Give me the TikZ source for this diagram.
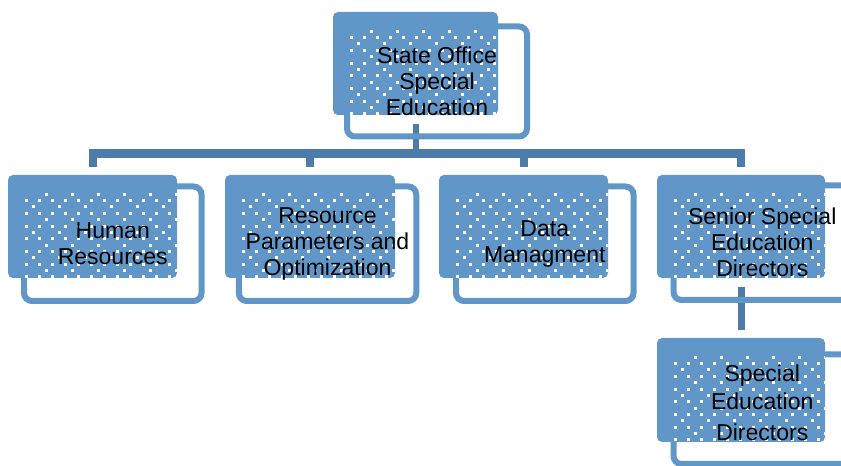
\documentclass[tikz,border=0pt]{standalone}
\usepackage{fontspec}
\setmainfont{Liberation Sans}
\usetikzlibrary{backgrounds}
\definecolor{boxblue}{RGB}{96,150,200}
\definecolor{linkblue}{RGB}{78,124,170}
\tikzset{
  fillbox/.style={rectangle, rounded corners=5pt, fill=boxblue, minimum width=169pt, minimum height=103pt, inner sep=0pt, outer sep=0pt},
  framebox/.style={rectangle, rounded corners=8pt, draw=boxblue, line width=6pt, minimum width=177.5pt, minimum height=114.5pt, inner sep=0pt, outer sep=0pt},
  lbl/.style={font=\fontsize{23}{26}\selectfont, align=center, text=black, inner sep=0pt},
  conn/.style={draw=linkblue},
}
\newcommand\dotsin[1]{%
  \begin{scope}
    \clip[rounded corners=5pt] (#1.south west) rectangle (#1.north east);
    \foreach \r in {0,...,14}{%
      \pgfmathsetmacro\dotY{19.3+6.35*\r}%
      \pgfmathtruncatemacro\dotM{mod(\r,4)}%
      \ifodd\r
        \foreach \c in {0,...,12}{\fill[white] ([shift={(18.7+13*\c-1.5,-\dotY+1.5)}]#1.north west) rectangle ++(3,-3);}%
      \else
        \ifnum\dotM=0 \def\dotS{38.2}\else\def\dotS{25.2}\fi
        \foreach \c in {0,...,6}{\fill[white] ([shift={(\dotS+26*\c-1.5,-\dotY+1.5)}]#1.north west) rectangle ++(3,-3);}%
      \fi
    }%
  \end{scope}}
\begin{document}
\begin{tikzpicture}[x=1pt,y=1pt]
  \useasboundingbox (0,0) rectangle (841,466);
  % frames (behind)
  \node[framebox, minimum width=180pt, minimum height=110pt] (o0) at (437,384.5) {};
  \node[framebox] (o1) at (112.75,222.25) {};
  \node[framebox] (o2) at (327.5,222.25) {};
  \node[framebox] (o3) at (544.75,222.25) {};
  \node[framebox] (o4) at (762.25,223.25) {};
  \node[framebox, minimum height=109.5pt] (o5) at (762.25,56.75) {};
  % filled boxes
  \node[fillbox, minimum width=165pt] (f0) at (415.5,402.5) {};
  \node[fillbox] (f1) at (92.5,239.5) {};
  \node[fillbox, minimum width=170pt] (f2) at (310,239.5) {};
  \node[fillbox] (f3) at (523.5,239.5) {};
  \node[fillbox, minimum width=168pt] (f4) at (741,239.5) {};
  \node[fillbox, minimum width=168pt, minimum height=104pt] (f5) at (741,76) {};
  \dotsin{f0}\dotsin{f1}\dotsin{f2}\dotsin{f3}\dotsin{f4}\dotsin{f5}
  % labels
  \node[lbl] (t0) at (o0) {State Office\\Special\\Education};
  \node[lbl] (t1) at (o1) {Human\\Resources};
  \node[lbl] (t2) at (o2) {Resource\\Parameters and\\Optimization};
  \node[lbl] (t3) at (o3) {Data\\Managment};
  \node[lbl] (t4) at (o4) {Senior Special\\Education\\Directors};
  \node[lbl, yshift=6pt] (t5) at (o5) {Special\\[2pt]Education\\[5pt]Directors};
  % connectors
  \begin{pgfonlayer}{background}
    \coordinate (bus) at (0,312.5);
    \draw[conn, line width=6pt, shorten <=9pt] (f0.south) -- (f0.south |- bus);
    \draw[conn, line width=9pt] ([xshift=-4pt]f1.north |- bus) -- ([xshift=4pt]f4.north |- bus);
    \foreach \n in {f1,f2,f3,f4}{\draw[conn, line width=8pt, shorten >=8pt] (\n.north |- bus) -- (\n.north);}
    \draw[conn, line width=7pt, shorten <=9pt, shorten >=8pt] (f4.south) -- (f5.north);
  \end{pgfonlayer}
\end{tikzpicture}
\end{document}
